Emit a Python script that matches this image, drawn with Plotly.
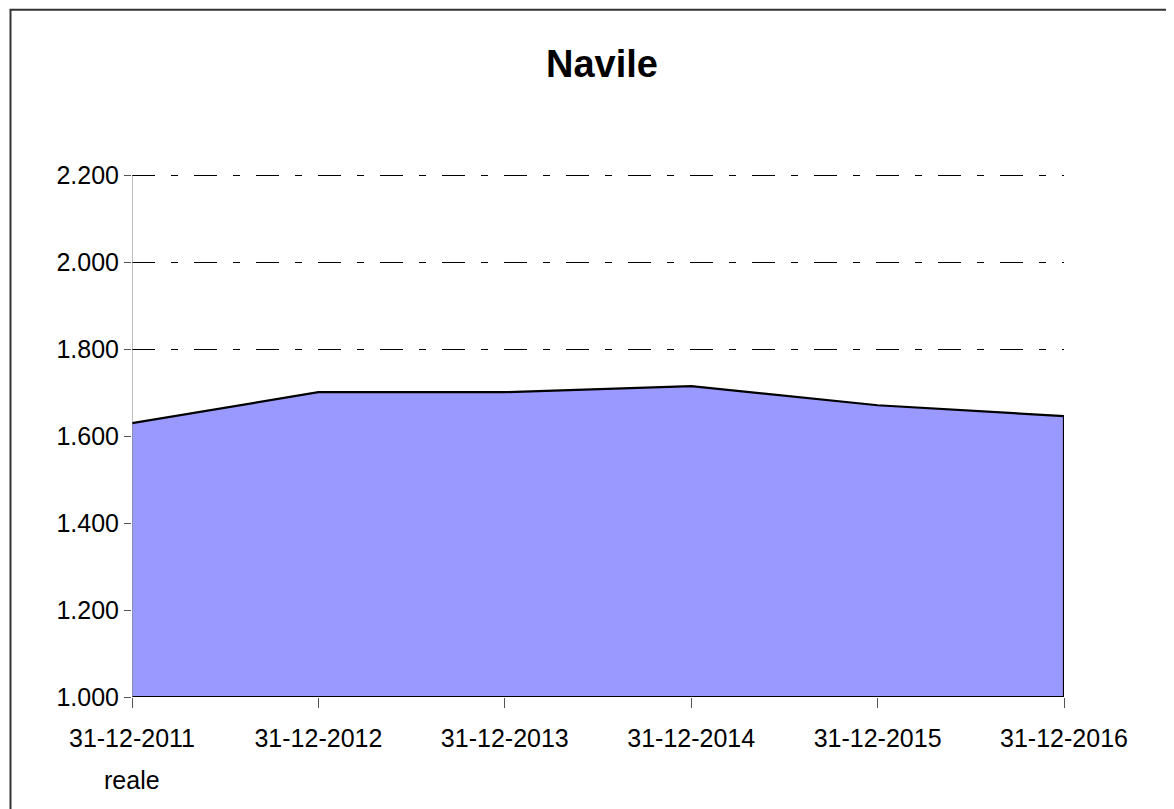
import plotly.graph_objects as go

categories = ["31-12-2011", "31-12-2012", "31-12-2013", "31-12-2014", "31-12-2015", "31-12-2016"]
sub_labels = ["reale", "", "", "", "", ""]
values = [1630, 1701, 1701, 1715, 1671, 1646]
y_tick_vals = [1000, 1200, 1400, 1600, 1800, 2000, 2200]
y_tick_text = ["1.000", "1.200", "1.400", "1.600", "1.800", "2.000", "2.200"]
title_text = "Navile"

FONT = "Liberation Sans, Arial, sans-serif"
x_idx = list(range(len(categories)))
y_min, y_max = 1000, 2200
y_top = y_max + 12  # small headroom so the top gridline is drawn

# closed outline of the area (built from the data)
poly_x = x_idx + [x_idx[-1], x_idx[0]]
poly_y = values + [y_min, y_min]

OFF = 8  # page body margin
W, H = 1174, 809
# target screen pixels of the plot area (value y_max at ST)
SL, SR, ST, SB = 132, 1064, 175, 697
pw = SR - SL
scale = (SB - ST) / (y_max - y_min)
ST2 = SB - (y_top - y_min) * scale
ph = SB - ST2
L = SL - OFF
T = ST2 - OFF
R = W - L - pw
B = H - T - ph

def px_x(p):
    return (p - SL) / pw

def px_y(p):
    return (SB - p) / ph

fig = go.Figure()
fig.add_trace(go.Scatter(
    x=poly_x, y=poly_y, mode="lines", fill="toself",
    fillcolor="#9999FF", line=dict(color="black", width=2.2),
    hoverinfo="skip", showlegend=False, cliponaxis=False,
))

annotations = [dict(
    text="<b>" + title_text + "</b>", xref="paper", yref="paper",
    x=px_x(602), y=px_y(64), xanchor="center", yanchor="middle",
    showarrow=False, font=dict(family=FONT, size=38, color="black"),
)]
for xi, s in zip(x_idx, sub_labels):
    if s:
        annotations.append(dict(
            text=s, xref="x", yref="paper", x=xi, y=px_y(780),
            xanchor="center", yanchor="middle", showarrow=False,
            font=dict(family=FONT, size=25, color="black"),
        ))

fig.update_layout(
    width=W, height=H,
    margin=dict(l=L, r=R, t=T, b=B),
    paper_bgcolor="white", plot_bgcolor="white",
    font=dict(family=FONT, size=25, color="black"),
    showlegend=False,
    xaxis=dict(
        range=[0, len(categories) - 1], tickvals=x_idx, ticktext=categories,
        showgrid=False, zeroline=False, showline=False,
        ticks="outside", ticklen=10, tickcolor="#555555", tickwidth=1,
        ticklabelstandoff=9,
        tickfont=dict(family=FONT, size=25, color="black"),
    ),
    yaxis=dict(
        range=[y_min, y_top], tickvals=y_tick_vals, ticktext=y_tick_text,
        showgrid=True, gridcolor="black", gridwidth=1,
        griddash="23px,16px,7px,16px",
        zeroline=False, showline=False,
        ticks="outside", ticklen=7, tickcolor="#555555", tickwidth=1,
        tickfont=dict(family=FONT, size=25, color="black"),
    ),
    annotations=annotations,
    shapes=[
        dict(
            type="line", xref="x", yref="y",
            x0=x_idx[0], x1=x_idx[0], y0=y_min, y1=y_max,
            line=dict(color="#808080", width=1), layer="above",
        ),
        dict(
            type="rect", xref="paper", yref="paper",
            x0=px_x(10.5), x1=px_x(1185), y0=px_y(9.5), y1=px_y(820),
            line=dict(color="#333333", width=2), layer="above",
        ),
    ],
)

fig.write_html("out.html")
